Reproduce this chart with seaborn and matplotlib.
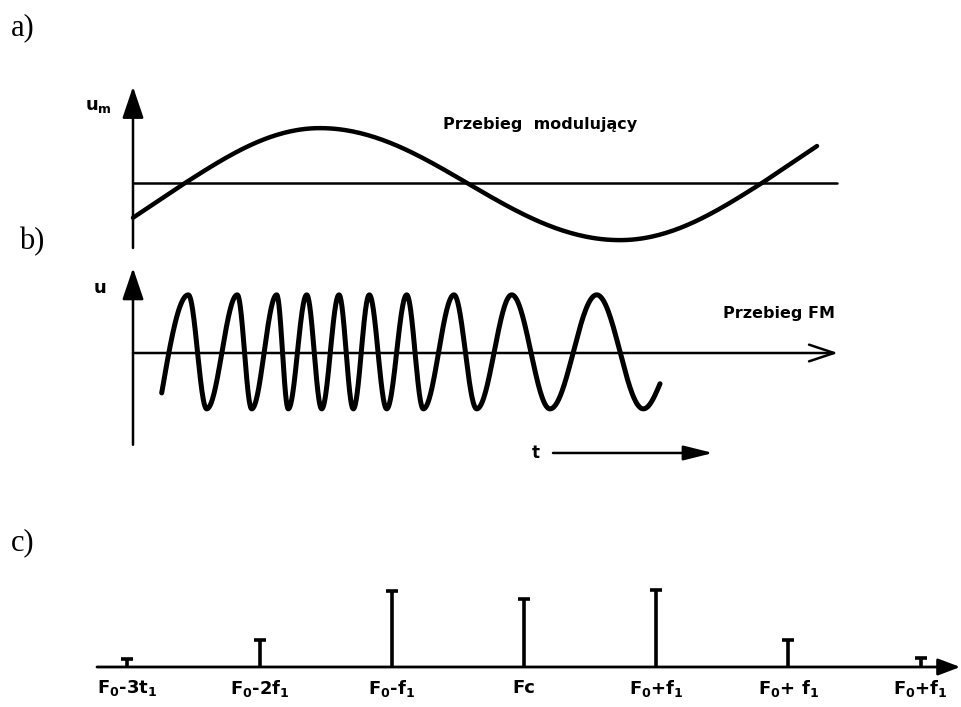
import numpy as np
import pandas as pd
import matplotlib
matplotlib.use("Agg")
import matplotlib.pyplot as plt
import seaborn as sns

# ---------------- data ----------------
# a) modulating waveform: key points (time, amplitude, kind: m = slope point, e = extremum)
mod_t = [0.00, 0.52, 1.87, 3.34, 4.87, 6.29, 6.84]
mod_u = [-0.62, 0.00, 0.98, 0.00, -1.02, 0.00, 0.66]
mod_kind = ["m", "m", "e", "m", "e", "m", "m"]

# b) FM waveform: start, alternating peaks/troughs, end
fm_t = [0.287, 0.553, 0.737, 1.043, 1.187, 1.437, 1.553, 1.737, 1.887, 2.060, 2.203,
        2.363, 2.537, 2.737, 2.903, 3.210, 3.437, 3.787, 4.170, 4.637, 5.103, 5.270]
fm_u = [-0.70, 1.02, -0.98, 1.02, -0.98, 1.02, -0.98, 1.02, -0.98, 1.02, -0.98,
        1.02, -0.98, 1.02, -0.98, 1.02, -0.98, 1.02, -0.98, 1.02, -0.98, -0.54]
fm_kind = ["m"] + ["e"] * 20 + ["m"]

# c) spectrum lines
spec_k = [-3, -2, -1, 0, 1, 2, 3]
spec_amp = [0.10, 0.34, 0.98, 0.87, 0.99, 0.35, 0.11]
spec_labels = [r"F$_\mathbf{0}$-3t$_\mathbf{1}$", r"F$_\mathbf{0}$-2f$_\mathbf{1}$",
               r"F$_\mathbf{0}$-f$_\mathbf{1}$", "Fc", r"F$_\mathbf{0}$+f$_\mathbf{1}$",
               r"F$_\mathbf{0}$+ f$_\mathbf{1}$", r"F$_\mathbf{0}$+f$_\mathbf{1}$"]

title_a = "Przebieg  modulujący"
title_b = "Przebieg FM"


def wave(ts, us, kinds, n=60):
    T, U = [], []
    for i in range(len(ts) - 1):
        s = np.linspace(0, 1, n)
        k0, k1 = kinds[i], kinds[i + 1]
        if k0 == "e" and k1 == "e":
            w = (1 - np.cos(np.pi * s)) / 2
        elif k0 == "m" and k1 == "e":
            w = np.sin(np.pi * s / 2)
        elif k0 == "e" and k1 == "m":
            w = 1 - np.cos(np.pi * s / 2)
        else:
            w = s
        T.append(ts[i] + (ts[i + 1] - ts[i]) * s)
        U.append(us[i] + (us[i + 1] - us[i]) * w)
    return np.concatenate(T), np.concatenate(U)


# ---------------- figure ----------------
sns.set_theme(style="white")
plt.rcParams["font.family"] = ["DejaVu Sans"]
W, H = 962, 707
fig = plt.figure(figsize=(W / 100, H / 100), dpi=100)
fig.patch.set_facecolor("white")


def panel(box, ox, oy, sx, sy):
    l, t, r, b = box
    ax = fig.add_axes([l / W, 1 - b / H, (r - l) / W, (b - t) / H])
    ax.set_xlim((l - ox) / sx, (r - ox) / sx)
    ax.set_ylim((oy - b) / sy, (oy - t) / sy)
    ax.axis("off")
    return ax


K = "black"

# ---- panel a ----
axa = panel((60, 70, 900, 265), 133, 183, 100, 56)
axa.plot([0, 7.04], [0, 0], color=K, lw=1.8)
axa.annotate("", xy=(0, 1.72), xytext=(0, -1.16),
             arrowprops=dict(arrowstyle="-|>,head_length=0.65,head_width=0.22",
                             mutation_scale=30, lw=1.8, color=K, shrinkA=0, shrinkB=0))
ta, ua = wave(mod_t, mod_u, mod_kind)
sns.lineplot(x=ta, y=ua, sort=False, estimator=None, color=K, lw=3.2, ax=axa,
             solid_capstyle="round")
axa.text(-0.48, 1.38, r"$\mathbf{u_m}$", fontsize=13, ha="left", va="center", color=K)
axa.text(3.10, 1.04, title_a, fontsize=11.5, fontweight="bold", ha="left", va="center", color=K)

# ---- panel b ----
axb = panel((60, 260, 900, 470), 133, 353, 100, 57)
axb.annotate("", xy=(7.05, 0), xytext=(0, 0),
             arrowprops=dict(arrowstyle="->,head_length=0.6,head_width=0.2",
                             mutation_scale=30, lw=1.8, color=K, shrinkA=0, shrinkB=0))
axb.annotate("", xy=(0, 1.49), xytext=(0, -1.61),
             arrowprops=dict(arrowstyle="-|>,head_length=0.65,head_width=0.22",
                             mutation_scale=30, lw=1.8, color=K, shrinkA=0, shrinkB=0))
tb, ub = wave(fm_t, fm_u, fm_kind)
sns.lineplot(x=tb, y=ub, sort=False, estimator=None, color=K, lw=3.6, ax=axb,
             solid_capstyle="round")
axb.text(-0.40, 1.14, r"$\mathbf{u}$", fontsize=13, ha="left", va="center", color=K)
axb.text(5.90, 0.70, title_b, fontsize=11.5, fontweight="bold", ha="left", va="center", color=K)
axb.text(4.03, -1.75, "t", fontsize=12, fontweight="bold", ha="center", va="center", color=K)
axb.annotate("", xy=(5.80, -1.754), xytext=(4.20, -1.754),
             arrowprops=dict(arrowstyle="-|>,head_length=0.6,head_width=0.15",
                             mutation_scale=30, lw=1.8, color=K, shrinkA=0, shrinkB=0))

# ---- panel c ----
axc = panel((80, 560, 962, 707), 524, 667, 132.2, 78)
axc.annotate("", xy=(3.30, 0), xytext=(-3.23, 0),
             arrowprops=dict(arrowstyle="-|>,head_length=0.45,head_width=0.17",
                             mutation_scale=30, lw=2.0, color=K, shrinkA=0, shrinkB=0))
df = pd.DataFrame({"k": spec_k, "amp": spec_amp})
axc.vlines(df["k"], 0, df["amp"], color=K, lw=2.6)
sns.scatterplot(data=df, x="k", y="amp", marker="_", s=70, color=K, linewidth=2.6,
                ax=axc, legend=False)
for k, lab in zip(spec_k, spec_labels):
    axc.text(k, -0.27, lab, fontsize=13, fontweight="bold", ha="center", va="center", color=K)
axc.set_xlim((80 - 524) / 132.2, (962 - 524) / 132.2)
axc.set_ylim((667 - 707) / 78, (667 - 560) / 78)
axc.axis("off")

# ---- panel letters ----
for lab, x, y in [("a)", 11, 28), ("b)", 19, 242), ("c)", 11, 543)]:
    fig.text(x / W, 1 - y / H, lab, fontsize=22, family="Liberation Serif",
             ha="left", va="center", color=K)

fig.savefig("out.png", dpi=100, facecolor="white")
